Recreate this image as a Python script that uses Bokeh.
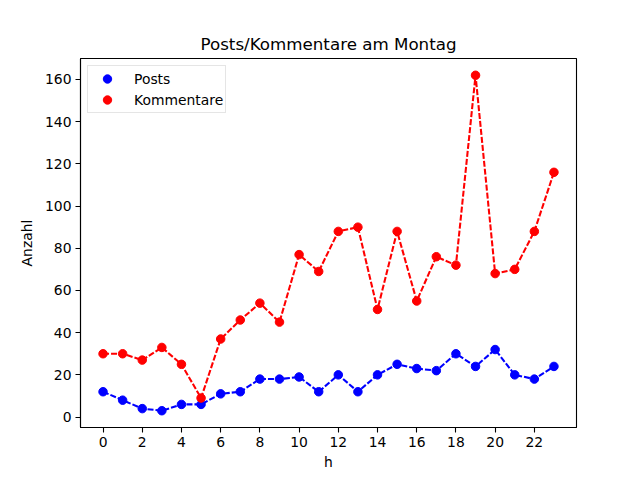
from bokeh.plotting import figure
from bokeh.models import Range1d, Legend, LegendItem, FixedTicker
from bokeh.embed import file_html
from bokeh.resources import INLINE

hours = list(range(24))
posts = [12, 8, 4, 3, 6, 6, 11, 12, 18, 18, 19, 12, 20, 12, 20, 25, 23, 22, 30, 24, 32, 20, 18, 24]
kommentare = [30, 30, 27, 33, 25, 9, 37, 46, 54, 45, 77, 69, 88, 90, 51, 88, 55, 76, 72, 162, 68, 70, 88, 116]
x_ticks = list(range(0, 24, 2))
y_ticks = list(range(0, 161, 20))

FONT = "DejaVu Sans"

p = figure(width=640, height=480, frame_width=496, frame_height=369,
           output_backend="svg", toolbar_location=None,
           x_range=Range1d(-1.15, 24.15), y_range=Range1d(-4.95, 169.95),
           min_border_left=80, min_border_right=64, min_border_top=58, min_border_bottom=53,
           title="Posts/Kommentare am Montag")
p.title.align = "center"
p.title.text_font = FONT
p.title.text_font_size = "16.7px"
p.title.text_font_style = "normal"
p.title.text_color = "black"

p.xgrid.visible = False
p.ygrid.visible = False
p.outline_line_color = "black"
p.outline_line_width = 1.1
p.outline_line_alpha = 1.0

for ax in (p.xaxis[0], p.yaxis[0]):
    ax.major_label_text_font = FONT
    ax.major_label_text_font_size = "13.9px"
    ax.major_label_text_color = "black"
    ax.axis_label_text_font = FONT
    ax.axis_label_text_font_size = "13.9px"
    ax.axis_label_text_font_style = "normal"
    ax.axis_label_text_color = "black"
    ax.minor_tick_line_color = None
    ax.major_tick_in = 0
    ax.major_tick_out = 5
    ax.major_tick_line_color = "black"
    ax.major_tick_line_width = 1.1
    ax.axis_line_color = "black"
    ax.axis_line_width = 1.1
    ax.major_label_standoff = 4

p.xaxis[0].ticker = FixedTicker(ticks=x_ticks)
p.yaxis[0].ticker = FixedTicker(ticks=y_ticks)
p.xaxis[0].axis_label = "h"
p.yaxis[0].axis_label = "Anzahl"
p.xaxis[0].axis_label_standoff = 4
p.yaxis[0].axis_label_standoff = 7

p.line(hours, posts, line_color="blue", line_width=2.08, line_dash="6 2")
sp = p.scatter(hours, posts, size=8.5, fill_color="blue", line_color="blue")
p.line(hours, kommentare, line_color="red", line_width=2.08, line_dash="6 2")
sk = p.scatter(hours, kommentare, size=8.5, fill_color="red", line_color="red")

legend = Legend(items=[LegendItem(label="Posts", renderers=[sp]),
                       LegendItem(label="Kommentare", renderers=[sk])],
                location="top_left")
legend.label_text_font = FONT
legend.label_text_font_size = "13.9px"
legend.label_text_color = "black"
legend.border_line_color = "#cccccc"
legend.border_line_width = 1
legend.background_fill_alpha = 0.8
legend.margin = 7
legend.padding = 2
legend.spacing = 0
legend.glyph_width = 34
legend.glyph_height = 21
legend.label_standoff = 10
legend.label_height = 21
p.add_layout(legend)

open("out.html", "w").write(file_html(p, INLINE))
